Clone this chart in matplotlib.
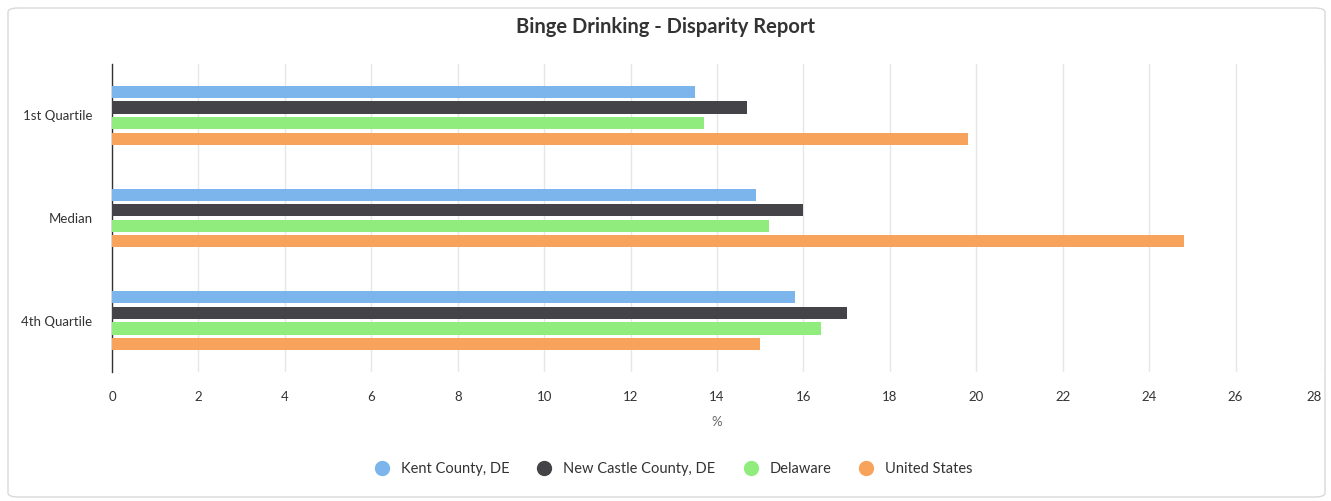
import matplotlib
matplotlib.use("Agg")
import matplotlib.pyplot as plt
from matplotlib.patches import FancyBboxPatch
from matplotlib.lines import Line2D
import numpy as np

categories = ["1st Quartile", "Median", "4th Quartile"]
series_names = ["Kent County, DE", "New Castle County, DE", "Delaware", "United States"]
kent = [13.5, 14.9, 15.8]
new_castle = [14.7, 16.0, 17.0]
delaware = [13.7, 15.2, 16.4]
united_states = [19.8, 24.8, 15.0]
x_ticks = [0, 2, 4, 6, 8, 10, 12, 14, 16, 18, 20, 22, 24, 26, 28]

colors = ["#7cb5ec", "#434348", "#90ed7d", "#f7a35c"]
values = [kent, new_castle, delaware, united_states]

plt.rcParams['font.family'] = ['Lato', 'DejaVu Sans']

W, H = 1331, 501
fig = plt.figure(figsize=(W / 100, H / 100), dpi=100)

# outer rounded border
border = FancyBboxPatch((8 / W, 4 / H), (1325 - 8) / W, (493 - 4) / H,
                        boxstyle="round,pad=0,rounding_size=0.008",
                        transform=fig.transFigure, facecolor="none",
                        edgecolor="#d9d9d9", linewidth=1.0, zorder=-1)
fig.patches.append(border)

left, right, top, bottom = 112, 1322, 64, 372
ax = fig.add_axes([left / W, 1 - bottom / H, (right - left) / W, (bottom - top) / H])
ax.set_facecolor("none")

y = np.arange(len(categories))
step = 0.152
height = 0.118
for i, (vals, c, name) in enumerate(zip(values, colors, series_names)):
    ax.barh(y + (i - 1.5) * step, vals, height=height, color=c, label=name, zorder=3)

ax.set_xlim(0, 28)
ax.set_ylim(2.5, -0.5)
ax.set_xticks(x_ticks)
ax.set_xticklabels([str(t) for t in x_ticks])
ax.get_xticklabels()[-1].set_horizontalalignment("right")
ax.set_yticks(y)
ax.set_yticklabels(categories)
ax.tick_params(axis='both', length=0, labelsize=9.5, labelcolor="#333333")
ax.tick_params(axis='x', pad=14)
ax.tick_params(axis='y', pad=14)
ax.grid(axis='x', color="#e6e6e6", linewidth=1, zorder=0)
for s in ["top", "right", "bottom"]:
    ax.spines[s].set_visible(False)
ax.spines["left"].set_color("#333333")
ax.spines["left"].set_linewidth(1)
ax.set_xlabel("%", fontsize=9.5, color="#666666", labelpad=9)

fig.text(0.5, 1 - 27 / H, "Binge Drinking - Disparity Report", ha="center", va="center",
         fontsize=14.5, fontweight="bold", color="#333333")

handles = [Line2D([0], [0], marker='o', linestyle='none', markersize=10,
                  markerfacecolor=c, markeredgecolor=c) for c in colors]
fig.legend(handles, series_names, loc="center", bbox_to_anchor=(670 / W, 1 - 469 / H),
           ncol=4, frameon=False, fontsize=10.5, handletextpad=0.3, columnspacing=1.4,
           labelcolor="#333333")

fig.savefig("out.png", dpi=100)
